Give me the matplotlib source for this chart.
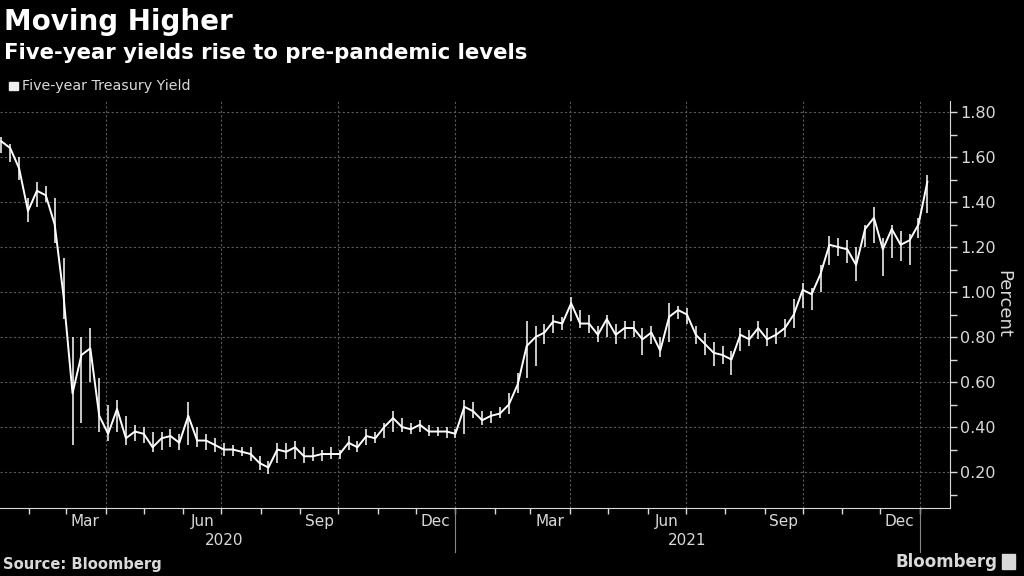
import matplotlib
matplotlib.use('Agg')
import matplotlib.pyplot as plt
import matplotlib.transforms as mtransforms
import numpy as np

plt.rcParams['font.family'] = ['DejaVu Sans']

# weekly readings of the five-year Treasury yield (percent), Fridays from 2020-01-10
week_start = '2020-01-10'
close = [1.67, 1.64, 1.55, 1.36, 1.45, 1.43, 1.30, 0.98, 0.55, 0.72,
         0.75, 0.45, 0.37, 0.48, 0.35, 0.38, 0.37, 0.31, 0.35, 0.36,
         0.33, 0.45, 0.34, 0.34, 0.32, 0.30, 0.30, 0.29, 0.28, 0.24,
         0.22, 0.30, 0.29, 0.31, 0.27, 0.27, 0.28, 0.28, 0.28, 0.33,
         0.31, 0.36, 0.35, 0.40, 0.44, 0.40, 0.39, 0.41, 0.38, 0.38,
         0.38, 0.37, 0.49, 0.47, 0.43, 0.45, 0.46, 0.50, 0.59, 0.76,
         0.80, 0.82, 0.87, 0.86, 0.95, 0.86, 0.86, 0.81, 0.88, 0.81,
         0.84, 0.84, 0.79, 0.82, 0.74, 0.89, 0.92, 0.90, 0.81, 0.77,
         0.73, 0.72, 0.70, 0.81, 0.79, 0.84, 0.79, 0.81, 0.84, 0.90,
         1.01, 0.99, 1.08, 1.21, 1.20, 1.19, 1.12, 1.28, 1.33, 1.19,
         1.28, 1.21, 1.23, 1.30, 1.49]
high = [1.69, 1.66, 1.60, 1.42, 1.49, 1.47, 1.42, 1.15, 0.80, 0.80,
        0.84, 0.62, 0.50, 0.52, 0.45, 0.41, 0.40, 0.38, 0.38, 0.39,
        0.37, 0.51, 0.40, 0.37, 0.35, 0.33, 0.32, 0.31, 0.31, 0.27,
        0.25, 0.33, 0.33, 0.34, 0.31, 0.31, 0.30, 0.31, 0.30, 0.36,
        0.34, 0.39, 0.38, 0.42, 0.47, 0.44, 0.42, 0.43, 0.41, 0.40,
        0.40, 0.39, 0.52, 0.51, 0.47, 0.47, 0.49, 0.55, 0.64, 0.87,
        0.85, 0.86, 0.90, 0.89, 0.98, 0.92, 0.90, 0.85, 0.90, 0.86,
        0.87, 0.87, 0.84, 0.85, 0.80, 0.95, 0.94, 0.93, 0.85, 0.82,
        0.78, 0.76, 0.74, 0.84, 0.83, 0.87, 0.84, 0.84, 0.88, 0.97,
        1.04, 1.02, 1.12, 1.25, 1.24, 1.23, 1.20, 1.30, 1.38, 1.24,
        1.30, 1.27, 1.26, 1.33, 1.52]
low = [1.62, 1.58, 1.50, 1.31, 1.38, 1.40, 1.22, 0.88, 0.32, 0.42,
       0.60, 0.38, 0.34, 0.38, 0.32, 0.34, 0.33, 0.29, 0.30, 0.31,
       0.30, 0.32, 0.31, 0.30, 0.29, 0.27, 0.27, 0.27, 0.25, 0.21,
       0.19, 0.24, 0.26, 0.26, 0.24, 0.25, 0.25, 0.26, 0.26, 0.30,
       0.29, 0.32, 0.33, 0.35, 0.38, 0.38, 0.37, 0.38, 0.36, 0.36,
       0.35, 0.35, 0.37, 0.44, 0.41, 0.42, 0.44, 0.46, 0.55, 0.62,
       0.67, 0.77, 0.82, 0.83, 0.87, 0.84, 0.82, 0.78, 0.80, 0.77,
       0.79, 0.80, 0.72, 0.77, 0.71, 0.78, 0.88, 0.86, 0.77, 0.72,
       0.67, 0.68, 0.63, 0.74, 0.76, 0.79, 0.76, 0.77, 0.80, 0.84,
       0.93, 0.92, 1.00, 1.12, 1.16, 1.13, 1.05, 1.20, 1.22, 1.07,
       1.15, 1.14, 1.12, 1.24, 1.35]

dates = np.datetime64(week_start) + np.arange(len(close)) * np.timedelta64(7, 'D')
dates = dates.astype('datetime64[D]').astype(object)

y_ticks = [0.20, 0.40, 0.60, 0.80, 1.00, 1.20, 1.40, 1.60, 1.80]
month_labels = ['Mar', 'Jun', 'Sep', 'Dec', 'Mar', 'Jun', 'Sep', 'Dec']
label_months = ['2020-03', '2020-06', '2020-09', '2020-12',
                '2021-03', '2021-06', '2021-09', '2021-12']
years = ['2020', '2021']

grey = '#d9d9d9'
grid_col = '#5a5a5a'

fig = plt.figure(figsize=(10.24, 5.76), dpi=100, facecolor='black')
ax = fig.add_axes([0.0, 0.118, 0.928, 0.707], facecolor='black')

# weekly high-low bars and the close line
ax.vlines(dates, low, high, color='white', lw=1.1)
ax.plot(dates, close, color='white', lw=1.4)

ax.set_xlim(np.datetime64('2020-01-09'), np.datetime64('2022-01-25'))
ax.set_ylim(0.04, 1.85)

# y axis on the right
ax.yaxis.tick_right()
ax.yaxis.set_label_position('right')
ax.set_yticks(y_ticks)
ax.set_yticklabels(['%.2f' % v for v in y_ticks])
ax.set_yticks(np.arange(0.1, 1.85, 0.1), minor=True)
ax.tick_params(axis='y', which='both', colors=grey, labelsize=11.5, length=5,
               width=1, direction='out', pad=2)
ax.set_ylabel('Percent', color=grey, fontsize=13, rotation=270, labelpad=12)

# x axis: month ticks, quarter grid, labels in mid-month
month_starts = np.arange(np.datetime64('2020-02'), np.datetime64('2022-02'),
                         np.timedelta64(1, 'M')).astype('datetime64[D]')
ax.set_xticks(month_starts.astype(object), minor=True)
mids = [np.datetime64(m + '-01') + np.timedelta64(15, 'D') for m in label_months]
ax.set_xticks([m.astype(object) for m in mids])
ax.set_xticklabels(month_labels)
ax.tick_params(axis='x', which='major', length=0, colors=grey, labelsize=11, pad=4)
ax.tick_params(axis='x', which='minor', length=4, width=1, colors=grey)

quarters = ['2020-04-01', '2020-07-01', '2020-10-01', '2021-01-01',
            '2021-04-01', '2021-07-01', '2021-10-01', '2022-01-01']
for q in quarters:
    ax.axvline(np.datetime64(q), color=grid_col, lw=0.8, ls=(0, (2, 2)), zorder=0)
for v in y_ticks:
    ax.axhline(v, color=grid_col, lw=0.8, ls=(0, (2, 2)), zorder=0)

for s in ['top', 'left']:
    ax.spines[s].set_visible(False)
ax.spines['right'].set_color(grey)
ax.spines['bottom'].set_color(grey)

# year labels and separators under the axis
trans = mtransforms.blended_transform_factory(ax.transData, ax.transAxes)
year_mid = [np.datetime64('2020-07-03'), np.datetime64('2021-07-02')]
for yr, xm in zip(years, year_mid):
    ax.text(xm, -0.08, yr, transform=trans, ha='center', va='center',
            color=grey, fontsize=11)
for sep in ['2021-01-01', '2022-01-01']:
    ax.plot([np.datetime64(sep)] * 2, [0, -0.108], transform=trans, color='#888888',
            lw=0.8, clip_on=False)

# titles and legend
fig.text(0.004, 0.962, 'Moving Higher', color='white', fontsize=20,
         fontweight='bold', va='center')
fig.text(0.004, 0.908, 'Five-year yields rise to pre-pandemic levels', color='white',
         fontsize=15.3, fontweight='bold', va='center')
fig.patches.append(plt.Rectangle((0.009, 0.843), 0.0085, 0.015, transform=fig.transFigure,
                                 color='#eeeeee'))
fig.text(0.021, 0.851, 'Five-year Treasury Yield', color=grey, fontsize=10.3, va='center')

fig.text(0.003, 0.02, 'Source: Bloomberg', color=grey, fontsize=10.6,
         fontweight='bold', va='center')
fig.text(0.974, 0.025, 'Bloomberg', color=grey, fontsize=12, fontweight='bold',
         ha='right', va='center')
fig.patches.append(plt.Rectangle((0.979, 0.012), 0.012, 0.026, transform=fig.transFigure,
                                 color=grey))

fig.savefig('out.png', dpi=100, facecolor='black')
